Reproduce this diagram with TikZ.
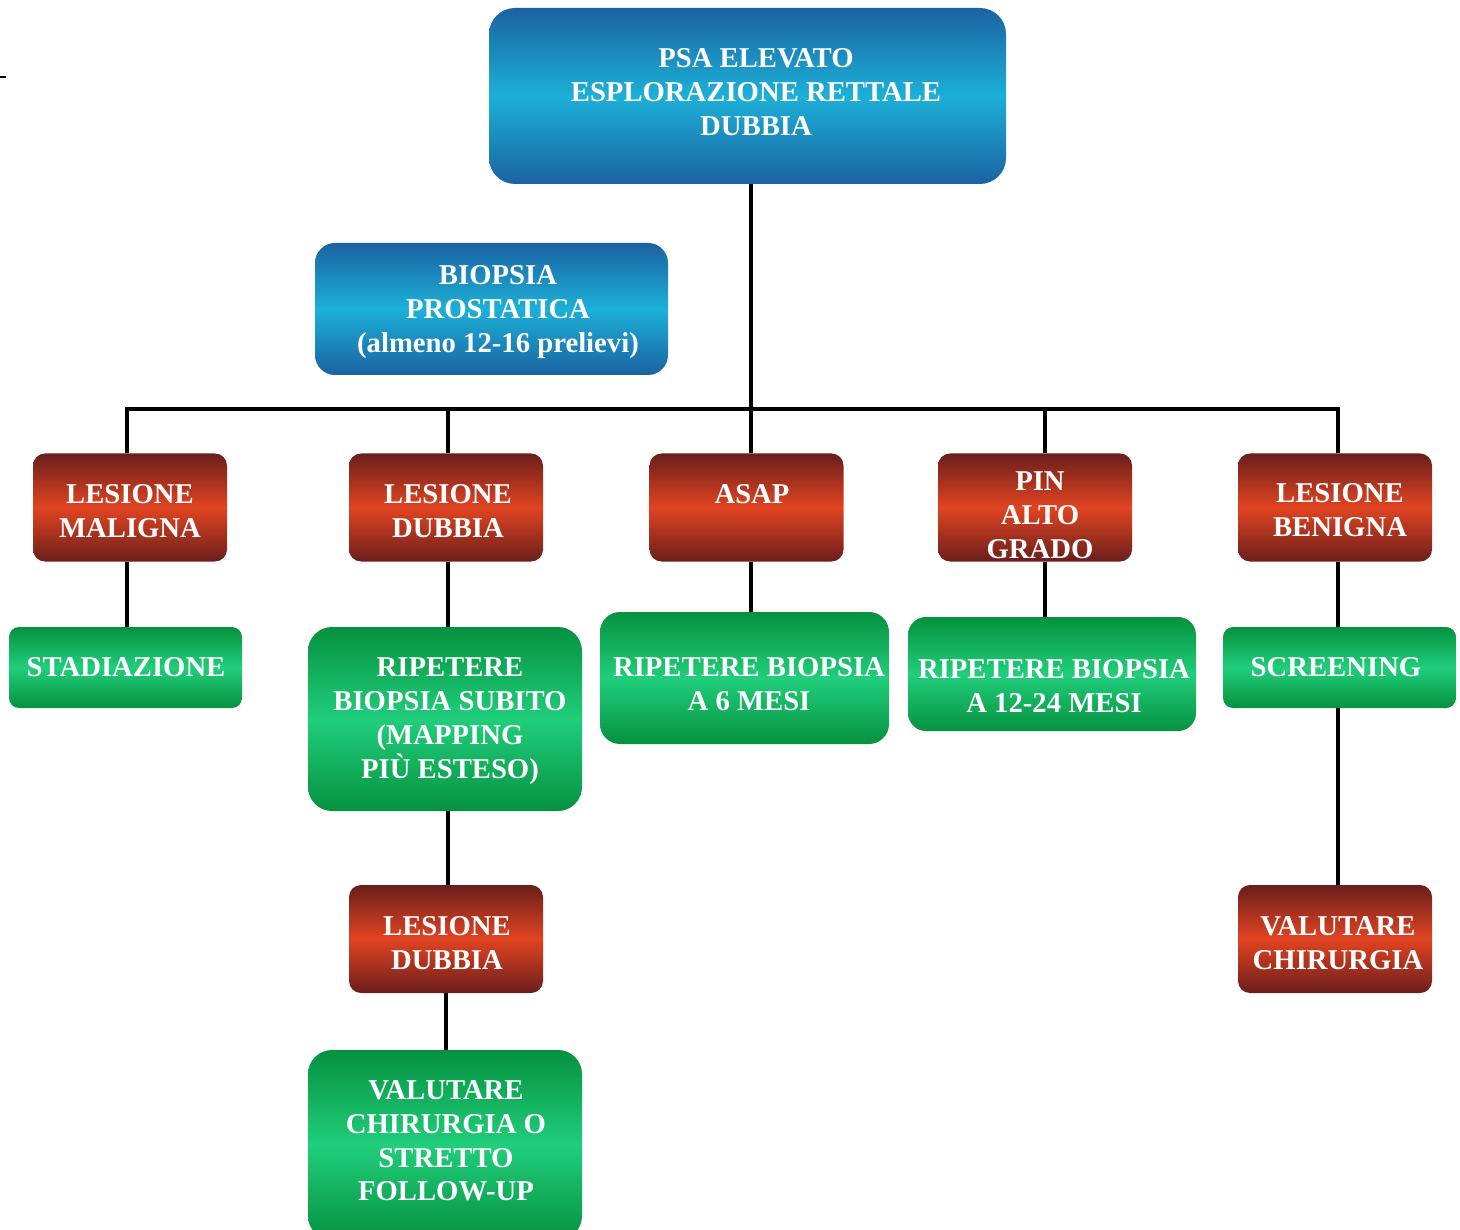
\documentclass[tikz,border=0pt]{standalone}
\usepackage{fontspec}
\setmainfont{Liberation Serif}
\definecolor{bluedk}{HTML}{1B62A2}
\definecolor{bluelt}{HTML}{1CB0D8}
\definecolor{reddk}{HTML}{6A1E1C}
\definecolor{redlt}{HTML}{E14421}
\definecolor{greendk}{HTML}{069140}
\definecolor{greenlt}{HTML}{20CE7B}
\tikzset{
  boxr/.style={shape=rectangle, rounded corners=#1, inner sep=0pt},
  bluebox/.style={boxr=#1, top color=bluedk, bottom color=bluedk, middle color=bluelt},
  redbox/.style={boxr=12pt, top color=reddk, bottom color=reddk, middle color=redlt, minimum width=194pt, minimum height=108pt},
  greenbox/.style={boxr=#1, top color=greendk, bottom color=greendk, middle color=greenlt},
  txt/.style={text=white, font=\fontsize{28.7}{33.8}\selectfont\bfseries, align=center, inner sep=0pt},
  link/.style={line width=3.5pt, black, line join=miter}
}
\begin{document}
\begin{tikzpicture}[x=1pt,y=-1pt]
\useasboundingbox (0,0) rectangle (1460,1230);
\fill[white] (0,0) rectangle (1460,1230);
% stray dash
\draw[line width=1.5pt] (0,77) -- (6,77);
% bus coordinates
\coordinate (b1) at (127,409);
\coordinate (b2) at (448,409);
\coordinate (b3) at (751,409);
\coordinate (b4) at (1045,409);
\coordinate (b5) at (1338,409);
% boxes
\node[bluebox=26pt, minimum width=517pt, minimum height=176pt] (top) at (747.5,96) {};
\node[bluebox=20pt, minimum width=353pt, minimum height=132pt] (biop) at (491.5,309) {};
\node[redbox] (m1) at (130,507.5) {};
\node[redbox] (d1) at (446,507.5) {};
\node[redbox] (asap) at (746.5,507.5) {};
\node[redbox] (pin) at (1035,507.5) {};
\node[redbox] (ben) at (1335,507.5) {};
\node[greenbox=10pt, minimum width=233pt, minimum height=81pt] (stad) at (125.5,667.5) {};
\node[greenbox=24pt, minimum width=274pt, minimum height=184pt] (rip) at (445,719) {};
\node[greenbox=20pt, minimum width=289pt, minimum height=132pt] (rip6) at (744.5,678) {};
\node[greenbox=18pt, minimum width=288pt, minimum height=114pt] (rip12) at (1052,674) {};
\node[greenbox=10pt, minimum width=233pt, minimum height=81pt] (scr) at (1339.5,667.5) {};
\node[redbox] (d2) at (446,939) {};
\node[redbox] (valr) at (1335,939) {};
\node[greenbox=24pt, minimum width=274pt, minimum height=190pt] (valg) at (445,1145) {};
% connectors
\draw[link] (b1 |- m1.north) -- (b1) -- (b5) -- (b5 |- ben.north);
\draw[link] (b3 |- top.south) -- (b3 |- asap.north);
\draw[link] (b2) -- (b2 |- d1.north);
\draw[link] (b4) -- (b4 |- pin.north);
\draw[link] (b1 |- m1.south) -- (b1 |- stad.north);
\draw[link] (b2 |- d1.south) -- (b2 |- rip.north);
\draw[link] (b2 |- rip.south) -- (b2 |- d2.north);
\draw[link] (d2.south) -- (d2.south |- valg.north);
\draw[link] (b3 |- asap.south) -- (b3 |- rip6.north);
\draw[link] (b4 |- pin.south) -- (b4 |- rip12.north);
\draw[link] (b5 |- ben.south) -- (b5 |- scr.north);
\draw[link] (b5 |- scr.south) -- (b5 |- valr.north);
% texts
\node[txt] (ttop) at (756,92) {PSA ELEVATO\\ESPLORAZIONE RETTALE\\DUBBIA};
\node[txt] (tbiop) at (498,312) {BIOPSIA\\PROSTATICA\\(almeno 12-16 prelievi)};
\node[txt] (tm1) at (130,511) {LESIONE\\MALIGNA};
\node[txt] (td1) at (448,511) {LESIONE\\DUBBIA};
\node[txt] (tasap) at (752,494) {ASAP};
\node[txt] (tpin) at (1040,515) {PIN\\ALTO\\GRADO};
\node[txt] (tben) at (1340,510) {LESIONE\\BENIGNA};
\node[txt] (tstad) at (126,667) {STADIAZIONE};
\node[txt] (trip) at (450,721) {RIPETERE\\BIOPSIA SUBITO\\(MAPPING\\PIÙ ESTESO)};
\node[txt] (trip6) at (749,684) {RIPETERE BIOPSIA\\A 6 MESI};
\node[txt] (trip12) at (1054,686) {RIPETERE BIOPSIA\\A 12-24 MESI};
\node[txt] (tscr) at (1336,667) {SCREENING};
\node[txt] (td2) at (447,943) {LESIONE\\DUBBIA};
\node[txt] (tvalr) at (1338,943) {VALUTARE\\CHIRURGIA};
\node[txt] (tvalg) at (446,1141) {VALUTARE\\CHIRURGIA O\\STRETTO\\FOLLOW-UP};
\end{tikzpicture}
\end{document}
